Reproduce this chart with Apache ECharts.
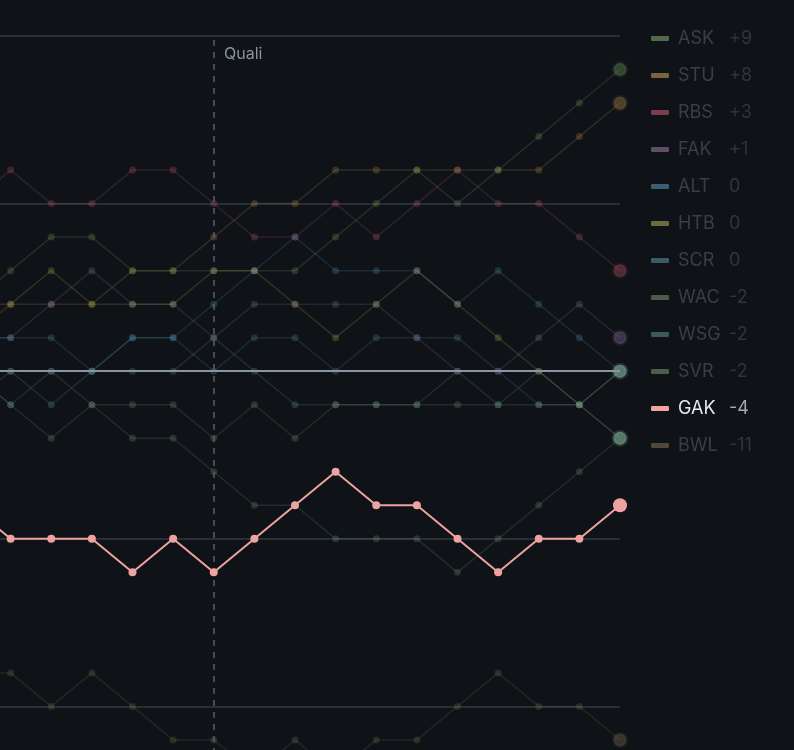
<!DOCTYPE html>
<html><head><meta charset="utf-8">
<script src="https://cdn.jsdelivr.net/npm/echarts@6/dist/echarts.min.js"></script>
<style>html,body{margin:0;padding:0;background:#0f1216;overflow:hidden;width:794px;height:750px;}
#c{position:absolute;left:-30px;top:0;width:830px;height:874px;}</style>
</head><body><div id="c"></div>
<script>
const rounds = ['R0','R1','R2','R3','R4','R5','R6','R7','R8','R9','R10','R11','R12','R13','R14','R15','R16'];
const qualiRound = 'R6';
const teams = ['ASK','STU','RBS','FAK','ALT','HTB','SCR','WAC','WSG','SVR','GAK','BWL'];
const changes = ['+9','+8','+3','+1','0','0','0','-2','-2','-2','-4','-11'];
const colors = ['#7fae6a','#c99a5a','#cf5f78','#9c7cb8','#5a9cc4','#c2bc5c','#5a96ac','#8a9e82','#6aa696','#78a486','#eea3a3','#8c7c5c'];
const legendColors = ['#4f6a4a','#7a6142','#7a3e4e','#5e4e68','#3c5e72','#6c6a3e','#3c5a68','#4c5a4a','#3e5a54','#48604c','#f0a3a3','#50473a'];
const ASK = [2,3,4,4,3,3,3,3,3,4,5,6,5,6,7,8,9];
const STU = [1,2,2,2,3,3,4,5,5,6,6,6,6,6,6,7,8];
const RBS = [5,6,5,5,6,6,5,4,4,5,4,5,6,5,5,4,3];
const FAK = [1,1,2,3,2,2,1,2,2,2,2,1,0,0,1,2,1];
const ALT = [0,-1,0,0,1,1,2,3,4,3,3,3,2,3,2,1,0];
const HTB = [2,2,3,2,2,2,3,3,2,1,2,3,2,1,0,-1,0];
const SCR = [1,1,1,0,1,1,0,1,1,0,1,1,1,0,-1,-1,0];
const WAC = [0,0,0,-1,-1,-1,-2,-1,-2,-1,-1,-1,-1,-1,-1,-1,-2];
const WSG = [-1,0,-1,0,0,0,1,0,-1,-1,-1,-1,0,-1,0,-1,-2];
const SVR = [0,-1,-2,-1,-2,-2,-3,-4,-4,-5,-5,-5,-6,-5,-4,-3,-2];
const GAK = [-4,-5,-5,-5,-6,-5,-6,-5,-4,-3,-4,-4,-5,-6,-5,-5,-4];
const BWL = [-9,-9,-10,-9,-10,-11,-11,-12,-11,-12,-11,-11,-10,-9,-10,-10,-11];
const values = [ASK,STU,RBS,FAK,ALT,HTB,SCR,WAC,WSG,SVR,GAK,BWL];
const focus = 'GAK';

const chart = echarts.init(document.getElementById('c'), null, {renderer:'canvas'});
const series = teams.map((t,k)=>{
  const on = t===focus;
  const last = values[k].length-1;
  return {
    name:t, type:'line', data:values[k].map((v,i)=> i===last ? {value:v, symbolSize: on?14:13,
        itemStyle:{color:colors[k], opacity: on?1:0.32, borderColor: echarts.color.modifyAlpha(colors[k], on?0:0.25), borderWidth: on?0:4}} : v),
    symbol:'circle', symbolSize: on?8:7, showSymbol:true,
    lineStyle:{color:colors[k], width: on?2:1.5, opacity: on?1:0.18},
    itemStyle:{color:colors[k], opacity: on?1:0.24},
    z: on?10:2, silent:true, animation:false
  };
});
series.push({
  type:'line', data:[], silent:true, animation:false, z:5,
  markLine:{silent:true, symbol:'none', animation:false,
    data:[
      {yAxis:0, lineStyle:{color:'#8b94a0', width:2, type:'solid'}, label:{show:false}},
      {xAxis:qualiRound, lineStyle:{color:'#56606d', width:1.5, type:[6,6]}, label:{show:false}}
    ]}
});
chart.setOption({
  backgroundColor:'#0f1216',
  textStyle:{fontFamily:'Inter, "Noto Sans", sans-serif'},
  grid:{left:0, right:180, top:36, bottom:0, containLabel:false},
  xAxis:{type:'category', data:rounds, boundaryGap:false, axisLine:{show:false}, axisTick:{show:false}, axisLabel:{show:false}, splitLine:{show:false}},
  yAxis:{type:'value', min:-15, max:10, interval:5, axisLine:{show:false}, axisTick:{show:false}, axisLabel:{show:false},
    splitLine:{show:true, lineStyle:{color:'#343a41', width:1.5}}},
  legend:{orient:'vertical', left:681, top:28, padding:0, itemWidth:18, itemHeight:5, itemGap:16, icon:'roundRect', selectedMode:false,
    data: teams.map((t,k)=>({name:t, itemStyle:{color:legendColors[k], opacity:1},
      textStyle:{rich:{
        n:{width:51, fontSize:18, color: t===focus?'#e6e8eb':'#3a3f46', padding:[0,0,0,4], fontFamily:'Inter'},
        v:{fontSize:18, color: t===focus?'#a4aab2':'#30353b', fontFamily:'Inter'}}}})),
    formatter:(name)=>'{n|'+name+'}{v|'+changes[teams.indexOf(name)]+'}',
    textStyle:{lineHeight:21}},
  graphic:[{type:'text', left:254, top:46, style:{text:'Quali', fill:'#8a929d', font:'16px Inter'}}],
  series
});
</script></body></html>
